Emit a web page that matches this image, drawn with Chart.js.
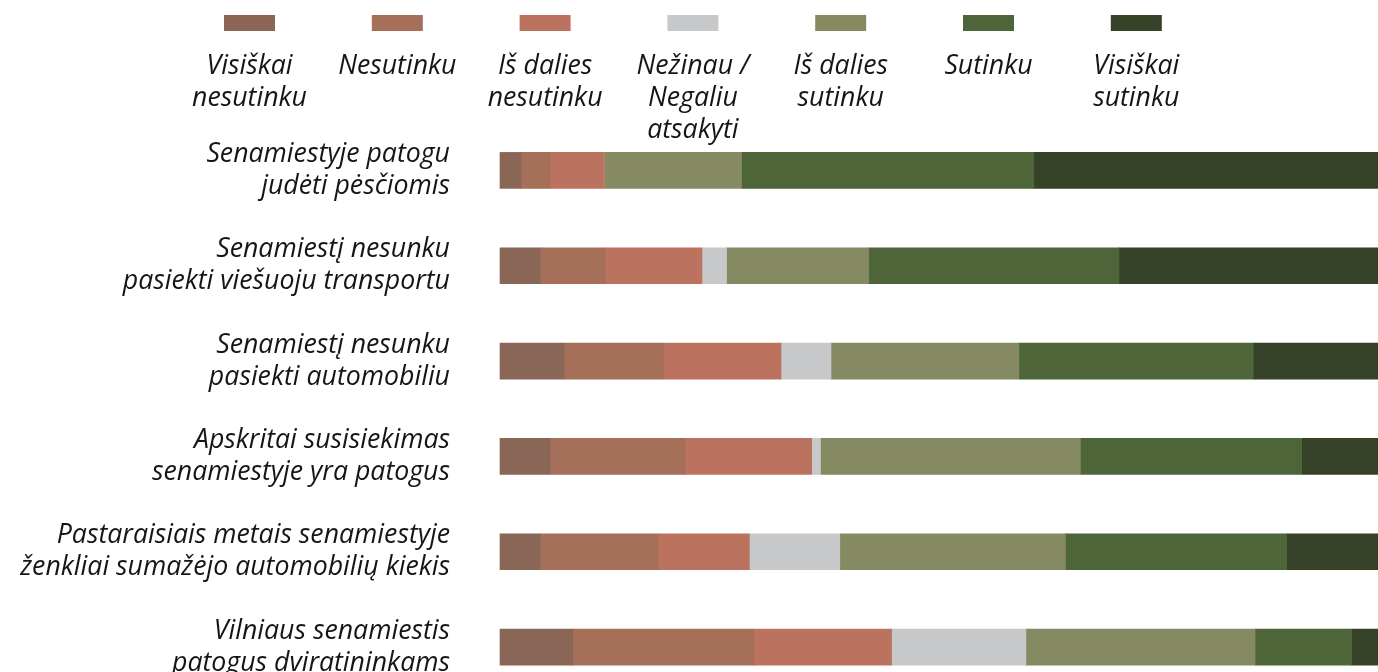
<!DOCTYPE html>
<html lang="lt">
<head>
<meta charset="utf-8">
<title>Susisiekimas senamiestyje</title>
<script src="https://cdn.jsdelivr.net/npm/chart.js@4/dist/chart.umd.min.js"></script>
<style>
    html, body { margin: 0; padding: 0; background: #ffffff; overflow: hidden; }
    #wrap { position: relative; width: 1378px; height: 672px; }
</style>
</head>
<body>
<div id="wrap"><canvas id="chart"></canvas></div>
<script>
// statements (y axis), one line per array item
const statements = [
    ["Senamiestyje patogu", "judėti pėsčiomis"],
    ["Senamiestį nesunku", "pasiekti viešuoju transportu"],
    ["Senamiestį nesunku", "pasiekti automobiliu"],
    ["Apskritai susisiekimas", "senamiestyje yra patogus"],
    ["Pastaraisiais metais senamiestyje", "ženkliai sumažėjo automobilių kiekis"],
    ["Vilniaus senamiestis", "patogus dviratininkams"]
];

// answer options as shown in the legend
const answers = [
    ["Visiškai", "nesutinku"],
    ["Nesutinku"],
    ["Iš dalies", "nesutinku"],
    ["Nežinau /", "Negaliu", "atsakyti"],
    ["Iš dalies", "sutinku"],
    ["Sutinku"],
    ["Visiškai", "sutinku"]
];

// shares in %
const visiskaiNesutinku = [2.4, 4.6, 7.3, 5.7, 4.6, 8.3];
const nesutinku         = [3.3, 7.4, 11.3, 15.4, 13.4, 20.6];
const isDaliesNesutinku = [6.2, 11.0, 13.4, 14.4, 10.4, 15.7];
const nezinau           = [0.0, 2.8, 5.7, 1.0, 10.3, 15.3];
const isDaliesSutinku   = [15.6, 16.2, 21.4, 29.6, 25.7, 26.1];
const sutinku           = [33.3, 28.5, 26.7, 25.2, 25.2, 11.0];
const visiskaiSutinku   = [39.2, 29.5, 14.2, 8.7, 10.4, 3.0];

const seriesValues = [
    visiskaiNesutinku, nesutinku, isDaliesNesutinku, nezinau,
    isDaliesSutinku, sutinku, visiskaiSutinku
];

const colors = [
    "#8a6657", "#a56f5a", "#bb735f", "#c7c8ca",
    "#858a62", "#4e6539", "#354228"
];

const FONT = "'Open Sans', 'Noto Sans', sans-serif";
const FONT_SIZE = 26.7;
const TEXT_COLOR = "#151515";

// legend layout: first box centre, step between items, box size
const LEGEND_X0 = 249.5;
const LEGEND_STEP = 147.8;
const LEGEND_BOX_W = 51;
const LEGEND_BOX_H = 16;

const topLegend = {
    id: "topLegend",
    afterDraw(chart) {
        const ctx = chart.ctx;
        ctx.save();
        ctx.font = "italic " + FONT_SIZE + "px " + FONT;
        ctx.textAlign = "center";
        ctx.textBaseline = "alphabetic";
        chart.data.datasets.forEach((ds, i) => {
            const cx = LEGEND_X0 + i * LEGEND_STEP;
            ctx.fillStyle = ds.backgroundColor;
            ctx.fillRect(cx - LEGEND_BOX_W / 2, 15, LEGEND_BOX_W, LEGEND_BOX_H);
            ctx.fillStyle = TEXT_COLOR;
            answers[i].forEach((line, j) => {
                ctx.fillText(line, cx, 74 + j * 32);
            });
        });
        ctx.restore();
    }
};

const datasets = seriesValues.map((values, i) => ({
    label: answers[i].join(" "),
    data: values,
    backgroundColor: colors[i],
    borderWidth: 0,
    barThickness: 36,
    clip: false
}));

new Chart(document.getElementById("chart").getContext("2d"), {
    type: "bar",
    data: {
        labels: statements,
        datasets: datasets
    },
    options: {
        indexAxis: "y",
        animation: false,
        responsive: true,
        maintainAspectRatio: false,
        layout: {
            padding: { top: 170.4, bottom: 24.9, left: 0, right: 0 }
        },
        plugins: {
            legend: { display: false },
            tooltip: { enabled: false }
        },
        scales: {
            x: {
                stacked: true,
                min: 0,
                max: 100,
                display: false
            },
            y: {
                stacked: true,
                offset: false,
                border: { display: false },
                grid: { display: false, drawTicks: false },
                ticks: {
                    padding: 50,
                    color: TEXT_COLOR,
                    font: { family: FONT, size: FONT_SIZE, style: "italic", lineHeight: 1.19 }
                },
                afterFit(scale) {
                    scale.width = 500;
                    scale.paddingTop = 0;
                    scale.paddingBottom = 0;
                }
            }
        }
    },
    plugins: [topLegend]
});
</script>
</body>
</html>
